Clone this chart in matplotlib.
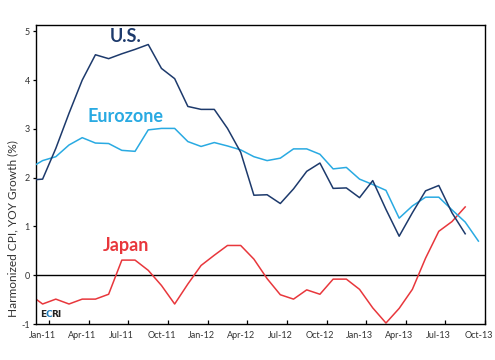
import matplotlib
matplotlib.use("Agg")
import matplotlib.pyplot as plt
import numpy as np

months = ["Dec-10",
          "Jan-11", "Feb-11", "Mar-11", "Apr-11", "May-11", "Jun-11", "Jul-11", "Aug-11", "Sep-11", "Oct-11", "Nov-11", "Dec-11",
          "Jan-12", "Feb-12", "Mar-12", "Apr-12", "May-12", "Jun-12", "Jul-12", "Aug-12", "Sep-12", "Oct-12", "Nov-12", "Dec-12",
          "Jan-13", "Feb-13", "Mar-13", "Apr-13", "May-13", "Jun-13", "Jul-13", "Aug-13", "Sep-13", "Oct-13"]

us = [1.95, 1.97, 2.60, 3.32, 4.00, 4.52, 4.44, 4.54, 4.63, 4.73, 4.24, 4.03, 3.46,
      3.40, 3.40, 3.01, 2.52, 1.64, 1.65, 1.47, 1.77, 2.13, 2.30, 1.78, 1.79,
      1.59, 1.94, 1.35, 0.80, 1.28, 1.73, 1.84, 1.28, 0.85]
eurozone = [2.19, 2.35, 2.43, 2.67, 2.82, 2.71, 2.70, 2.56, 2.54, 2.98, 3.01, 3.01, 2.74,
            2.64, 2.72, 2.65, 2.57, 2.43, 2.35, 2.40, 2.59, 2.59, 2.48, 2.18, 2.21,
            1.97, 1.86, 1.74, 1.17, 1.42, 1.60, 1.60, 1.34, 1.09, 0.70]
japan = [-0.39, -0.59, -0.49, -0.59, -0.49, -0.49, -0.39, 0.31, 0.31, 0.10, -0.21, -0.59, -0.18,
         0.20, 0.41, 0.61, 0.61, 0.33, -0.07, -0.40, -0.49, -0.30, -0.39, -0.08, -0.08,
         -0.29, -0.67, -0.98, -0.68, -0.29, 0.35, 0.90, 1.10, 1.40]

tick_labels = ["Jan-11", "Apr-11", "Jul-11", "Oct-11", "Jan-12", "Apr-12", "Jul-12",
               "Oct-12", "Jan-13", "Apr-13", "Jul-13", "Oct-13"]
y_ticks = [-1, 0, 1, 2, 3, 4, 5]

US_C = "#1d3a6c"
EU_C = "#29aae2"
JP_C = "#e8373c"
TXT = "#333333"

x_all = np.arange(len(months)) - 1  # Jan-11 -> 0

fig = plt.figure(figsize=(4.95, 3.6), dpi=100)
ax = fig.add_axes([36 / 495, 1 - 324 / 360, 449 / 495, 299 / 360])

ax.axhline(0, color="black", lw=1.0, zorder=1)
ax.plot(x_all[:len(japan)], japan, color=JP_C, lw=1.1, zorder=2)
ax.plot(x_all[:len(eurozone)], eurozone, color=EU_C, lw=1.1, zorder=3)
ax.plot(x_all[:len(us)], us, color=US_C, lw=1.1, zorder=4)

ax.set_xlim(-0.5, 33.5)
ax.set_ylim(-1, 5.13)

tick_pos = [months.index(t) - 1 for t in tick_labels]
ax.set_xticks(tick_pos)
ax.set_xticklabels(tick_labels, fontsize=6.5, color=TXT, family="Lato")
ax.set_xticks([p + 0.5 for p in tick_pos], minor=True)
ax.tick_params(axis="x", which="major", length=0, pad=5)
ax.tick_params(axis="x", which="minor", direction="in", length=3, width=0.9, color="black")

ax.set_yticks(y_ticks)
ax.set_yticklabels([str(v) for v in y_ticks], fontsize=6.5, color=TXT, family="Lato")
ax.tick_params(axis="y", direction="out", length=2.5, width=0.9, pad=2)

for s in ax.spines.values():
    s.set_linewidth(1.0)
    s.set_color("black")

fig.text(13 / 495, 1 - 228.5 / 360, "Harmonized CPI, YOY Growth (%)", fontsize=8.6, color=TXT,
         family="Lato", rotation=90, ha="center", va="center")

lab_kw = dict(fontsize=13, family="Lato", fontweight="bold", ha="center", va="center")
ax.text(126 / 495, 1 - 37 / 360, "U.S.", color=US_C, transform=fig.transFigure, **lab_kw)
ax.text(126 / 495, 1 - 117 / 360, "Eurozone", color=EU_C, transform=fig.transFigure, **lab_kw)
ax.text(126 / 495, 1 - 246 / 360, "Japan", color=JP_C, transform=fig.transFigure, **lab_kw)

# ECRI logo
ek = dict(fontsize=6.5, family="DejaVu Sans", fontweight="bold", va="center", ha="left", transform=fig.transFigure)
fig.text(40 / 495, 1 - 314.5 / 360, "E", color="#222222", **ek)
fig.text(45.3 / 495, 1 - 314.5 / 360, "C", color="#1f7fc0", **ek)
fig.text(50.8 / 495, 1 - 314.5 / 360, "RI", color="#222222", **ek)

fig.savefig("out.png", dpi=100)
